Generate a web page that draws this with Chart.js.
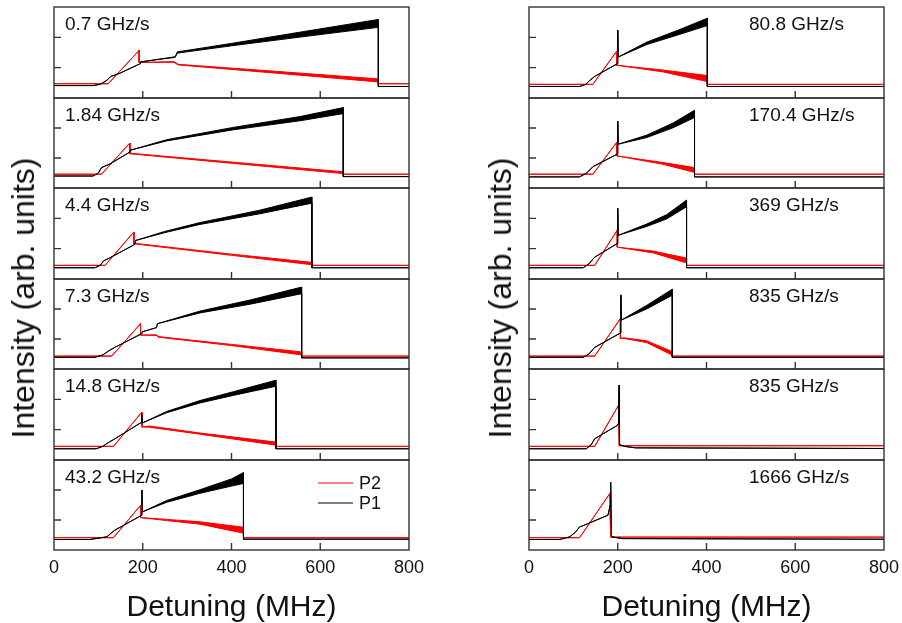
<!DOCTYPE html>
<html>
<head>
<meta charset="utf-8">
<script src="https://cdn.jsdelivr.net/npm/chart.js@4.4.1/dist/chart.umd.min.js"></script>
<style>
  body { margin: 0; background: #fff; font-family: "Liberation Sans", Arial, sans-serif; }
  #fig { position: relative; width: 902px; height: 623px; overflow: hidden; }
  #fig canvas { position: absolute; }
  .title { position: absolute; color: #111; font-size: 30px; line-height: 30px; white-space: nowrap; }
  .ytitle { font-size: 32px; line-height: 32px; transform: translate(-50%, -50%) rotate(-90deg); }
</style>
</head>
<body>
<div id="fig"></div>
<script>
const xTicks = [0, 200, 400, 600, 800];
const yTicks = [1, 2];
const seriesNames = ['P2', 'P1'];
const rates = ['0.7 GHz/s', '1.84 GHz/s', '4.4 GHz/s', '7.3 GHz/s', '14.8 GHz/s', '43.2 GHz/s',
               '80.8 GHz/s', '170.4 GHz/s', '369 GHz/s', '835 GHz/s', '835 GHz/s', '1666 GHz/s'];

// each point: [detuning MHz, intensity, half width of the noise band]
const p1 = [
  [[0,0.41],[88,0.41],[104,0.45],[119,0.58],[128,0.71],[149,0.82],[194,1.13],[195,1.19],[273,1.35,0.01],[278,1.5,0.02],[400,1.76,0.04],[550,2.08,0.08],[731,2.46,0.13],[731,0.38],[800,0.38]],
  [[0,0.4],[88,0.4],[100,0.5],[107,0.68],[126,0.8],[171,1.2],[172,1.26],[254,1.59,0.02],[404,1.98,0.04],[554,2.31,0.07],[652,2.58,0.1],[652,0.38],[800,0.38]],
  [[0,0.37],[92,0.37],[104,0.45],[112,0.6],[126,0.7],[182,1.14],[184,1.27],[250,1.55,0.02],[329,1.83,0.03],[464,2.21,0.06],[581,2.6,0.1],[581,0.37],[800,0.37]],
  [[0,0.39],[92,0.39],[110,0.47],[126,0.63],[137,0.72],[198,1.18],[199,1.24],[231,1.38],[233,1.51],[329,1.9,0.03],[442,2.23,0.07],[558,2.62,0.11],[558,0.37],[800,0.37]],
  [[0,0.37],[95,0.37],[110,0.45],[125,0.6],[134,0.67],[198,1.25],[198,1.5],[199,1.22],[254,1.58,0.02],[329,1.92,0.04],[404,2.19,0.06],[500,2.53,0.1],[500,0.37],[800,0.37]],
  [[0,0.35],[81,0.35],[119,0.44],[137,0.66],[198,1.16],[198,2.0],[199,1.27],[254,1.62,0.03],[329,1.95,0.06],[400,2.25,0.12],[427,2.4,0.18],[427,0.36],[800,0.36]],
  [[0,0.38],[114,0.38],[128,0.45],[137,0.58],[148,0.71],[199,1.13],[200,2.24],[201,1.35],[265,1.8,0.04],[340,2.18,0.08],[402,2.51,0.12],[402,0.38],[800,0.38]],
  [[0,0.37],[114,0.37],[130,0.5],[144,0.71],[199,1.13],[200,2.23],[201,1.46],[265,1.72,0.04],[325,2.09,0.08],[373,2.47,0.12],[373,0.37],[800,0.37]],
  [[0,0.37],[122,0.37],[135,0.5],[148,0.72],[199,1.17],[200,2.33],[201,1.44],[265,1.77,0.04],[310,2.05,0.07],[355,2.49,0.11],[355,0.37],[800,0.37]],
  [[0,0.39],[122,0.39],[135,0.5],[148,0.72],[206,1.2],[207,2.47],[208,1.63],[265,2.06,0.06],[323,2.56,0.1],[323,0.39],[800,0.39]],
  [[0,0.37],[129,0.37],[140,0.5],[148,0.7],[199,1.14],[201,1.2],[202,1.6],[203,2.47],[204,0.51],[215,0.45],[240,0.4],[800,0.38]],
  [[0,0.35],[69,0.35],[92,0.44],[105,0.6],[114,0.77],[120,0.8],[178,1.16],[183,1.5],[184,2.26],[186,0.44],[210,0.38],[800,0.36]]
];
const p2 = [
  [[0,0.47],[122,0.47],[192,1.57],[192,1.17],[270,1.19,0.01],[280,1.1,0.01],[500,0.85,0.03],[731,0.58,0.05],[731,0.47],[800,0.47]],
  [[0,0.46],[107,0.46],[171,1.5],[171,1.15,0.01],[404,0.84,0.02],[652,0.51,0.03],[652,0.46],[800,0.46]],
  [[0,0.45],[115,0.45],[180,1.55],[180,1.17,0.01],[400,0.8,0.02],[581,0.51,0.04],[581,0.45],[800,0.45]],
  [[0,0.43],[130,0.43],[195,1.51],[195,1.13],[231,1.13,0.01],[235,1.07,0.01],[400,0.8,0.02],[558,0.52,0.05],[558,0.43],[800,0.43]],
  [[0,0.45],[134,0.45],[198,1.58],[198,1.09],[215,1.1,0.02],[329,0.87,0.02],[500,0.54,0.05],[500,0.45],[800,0.45]],
  [[0,0.41],[134,0.41],[195,1.49],[195,1.08],[254,1.0,0.02],[329,0.9,0.04],[427,0.66,0.1],[427,0.41],[800,0.41]],
  [[0,0.45],[144,0.45],[198,1.55],[198,1.08],[302,0.89,0.03],[402,0.64,0.1],[402,0.45],[800,0.45]],
  [[0,0.46],[144,0.46],[198,1.53],[198,1.07],[302,0.82,0.03],[373,0.6,0.08],[373,0.46],[800,0.46]],
  [[0,0.45],[148,0.45],[199,1.61],[199,1.05],[280,0.89,0.03],[355,0.61,0.08],[355,0.45],[800,0.45]],
  [[0,0.43],[148,0.43],[206,1.68],[206,1.02],[214,1.03,0.01],[265,0.91,0.03],[323,0.52,0.06],[323,0.43],[800,0.43]],
  [[0,0.45],[148,0.45],[202,1.81],[203,0.47],[800,0.47]],
  [[0,0.41],[114,0.41],[182,1.88],[184,0.43],[800,0.43]]
];

const RED = '#ff0000';
const BLACK = '#000000';
const FONT = '"Liberation Sans", Arial, sans-serif';
const PAD = 4;
const SIDE = 24;
const colLeft = [54, 529];
const plotW = 355;
const edges = [7, 98, 188, 279, 369, 460, 550];

const fig = document.getElementById('fig');

// upper and lower edge of a trace, filled in between
function band(points, color, label) {
  const hi = points.map(p => ({ x: p[0], y: p[1] + (p[2] || 0) }));
  const lo = points.map(p => ({ x: p[0], y: p[1] - (p[2] || 0) }));
  return [
    { label: label, data: hi, borderColor: color, backgroundColor: color, borderWidth: 1, fill: '+1' },
    { label: label, data: lo, borderColor: color, borderWidth: 1, fill: false }
  ];
}

const framePlugin = {
  id: 'frame',
  afterDatasetsDraw(chart, args, opts) {
    const { ctx, chartArea: a } = chart;
    const x = chart.scales.x, y = chart.scales.y;
    ctx.save();
    ctx.strokeStyle = '#333';
    ctx.lineWidth = 1.4;
    ctx.strokeRect(a.left, a.top, a.right - a.left, a.bottom - a.top);
    ctx.beginPath();
    xTicks.forEach(v => {
      if (v <= 0 || v >= 800) return;
      const px = x.getPixelForValue(v);
      ctx.moveTo(px, a.bottom);
      ctx.lineTo(px, a.bottom - 7);
    });
    yTicks.forEach(v => {
      const py = y.getPixelForValue(v);
      ctx.moveTo(a.left, py);
      ctx.lineTo(a.left + 7, py);
    });
    ctx.stroke();

    ctx.fillStyle = '#111';
    ctx.font = '19px ' + FONT;
    ctx.textBaseline = 'middle';
    ctx.textAlign = 'left';
    ctx.fillText(opts.rate, a.left + opts.labelDx, a.top + 18);

    if (opts.bottom) {
      ctx.font = '18px ' + FONT;
      ctx.textAlign = 'center';
      xTicks.forEach(v => {
        ctx.fillText(String(v), x.getPixelForValue(v), a.bottom + 18);
      });
    }

    if (opts.legend) {
      const rows = [[seriesNames[0], RED], [seriesNames[1], BLACK]];
      ctx.font = '18px ' + FONT;
      ctx.textAlign = 'left';
      rows.forEach((r, i) => {
        const ly = a.top + 23 + i * 20;
        ctx.strokeStyle = r[1];
        ctx.lineWidth = 1;
        ctx.beginPath();
        ctx.moveTo(a.left + 264, ly);
        ctx.lineTo(a.left + 299, ly);
        ctx.stroke();
        ctx.fillStyle = '#111';
        ctx.fillText(r[0], a.left + 305, ly + 1);
      });
    }
    ctx.restore();
  }
};

for (let i = 0; i < 12; i++) {
  const col = Math.floor(i / 6);
  const row = i % 6;
  const h = edges[row + 1] - edges[row];
  const extra = row === 5 ? 36 : 0;
  const canvas = document.createElement('canvas');
  canvas.width = plotW + 2 * SIDE;
  canvas.height = h + 2 * PAD + extra;
  canvas.style.left = (colLeft[col] - SIDE) + 'px';
  canvas.style.top = (edges[row] - PAD) + 'px';
  fig.appendChild(canvas);

  new Chart(canvas.getContext('2d'), {
    type: 'line',
    data: {
      datasets: [...band(p1[i], BLACK, 'P1'), ...band(p2[i], RED, 'P2')]
    },
    options: {
      responsive: false,
      animation: false,
      devicePixelRatio: 1,
      events: [],
      layout: { padding: { left: SIDE, right: SIDE, top: PAD, bottom: PAD + extra } },
      elements: {
        point: { radius: 0 },
        line: { tension: 0, borderJoinStyle: 'bevel' }
      },
      scales: {
        x: { type: 'linear', min: 0, max: 800, display: false },
        y: { min: 0, max: 3, display: false }
      },
      plugins: {
        legend: { display: false },
        tooltip: { enabled: false },
        frame: {
          rate: rates[i],
          labelDx: col === 0 ? 11 : 220,
          bottom: row === 5,
          legend: i === 5
        }
      }
    },
    plugins: [framePlugin]
  });
}

// axis titles
function addTitle(text, css, cls) {
  const d = document.createElement('div');
  d.className = 'title' + (cls ? ' ' + cls : '');
  d.textContent = text;
  Object.assign(d.style, css);
  fig.appendChild(d);
}
colLeft.forEach((l, c) => {
  addTitle('Detuning (MHz)', { left: l + 'px', width: plotW + 'px', textAlign: 'center', top: '591px' });
  addTitle('Intensity (arb. units)', { left: (c === 0 ? 23 : 500) + 'px', top: '298px' }, 'ytitle');
});
</script>
</body>
</html>
